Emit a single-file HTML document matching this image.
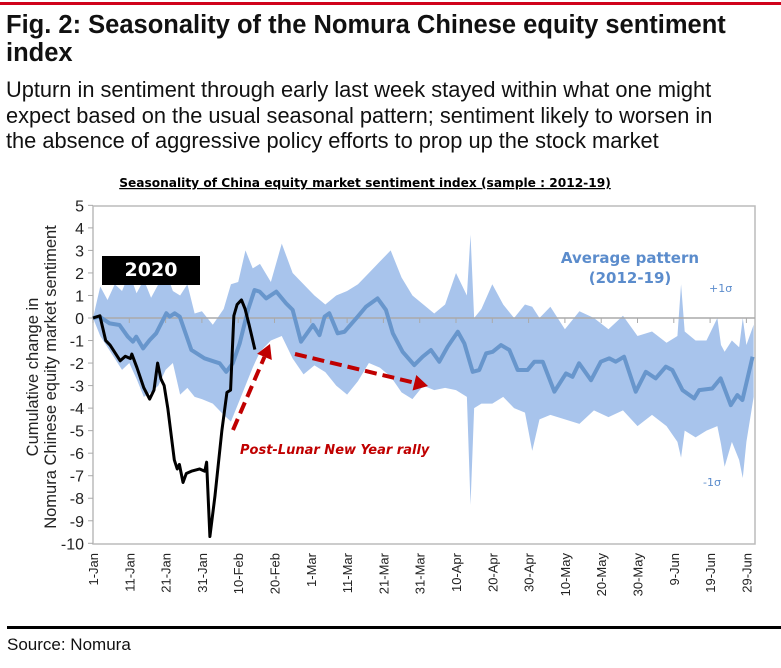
<!DOCTYPE html>
<html><head><meta charset="utf-8"><style>
body{margin:0;width:781px;height:668px;background:#fff;overflow:hidden;font-family:"Liberation Sans",sans-serif;position:relative}
.abs{position:absolute}
</style></head><body>
<div class="abs" style="left:0;top:2px;width:781px;height:3px;background:#d0021b"></div>
<div class="abs" style="left:6px;top:11px;width:745px;font-size:25.5px;font-weight:bold;line-height:28px;color:#111">Fig. 2: Seasonality of the Nomura Chinese equity sentiment index</div>
<div class="abs" style="left:6px;top:77px;width:730px;font-size:21.8px;line-height:25.5px;color:#111">Upturn in sentiment through early last week stayed within what one might expect based on the usual seasonal pattern; sentiment likely to worsen in the absence of aggressive policy efforts to prop up the stock market</div>
<svg class="abs" style="left:0;top:0" width="781" height="668">
<text x="365" y="187" text-anchor="middle" font-family="DejaVu Sans" font-weight="bold" font-size="12.2" text-decoration="underline">Seasonality of China equity market sentiment index (sample : 2012-19)</text>
<rect x="93" y="206" width="662" height="338" fill="none" stroke="#bbb" stroke-width="1.5"/>
<g id="g"></g>
</svg>
<div class="abs" style="left:102px;top:256px;width:98px;height:29px;background:#000;color:#fff;font:bold 19px 'DejaVu Sans',sans-serif;text-align:center;line-height:29px">2020</div>
<div class="abs" style="left:540px;top:248px;width:180px;text-align:center;color:#5b8ccc;font:bold 15px 'DejaVu Sans',sans-serif;line-height:20px">Average pattern<br>(2012-19)</div>
<div class="abs" style="left:709px;top:282px;color:#5b8ccc;font:11px 'DejaVu Sans',sans-serif">+1σ</div>
<div class="abs" style="left:703px;top:476px;color:#5b8ccc;font:11px 'DejaVu Sans',sans-serif">-1σ</div>
<div class="abs" style="left:240px;top:443px;color:#c00000;font:italic bold 13px 'DejaVu Sans',sans-serif">Post-Lunar New Year rally</div>
<div class="abs" style="left:-132px;top:358px;width:350px;height:38px;transform:rotate(-90deg);text-align:center;font-size:16.5px;line-height:18px;color:#222">Cumulative change in<br>Nomura Chinese equity market sentiment</div>
<div class="abs" style="left:7px;top:626px;width:774px;height:3px;background:#000"></div>
<div class="abs" style="left:7px;top:635px;font-size:17px;color:#111">Source: Nomura</div>
<script>
const yTicks=[5,4,3,2,1,0,-1,-2,-3,-4,-5,-6,-7,-8,-9,-10];
const xTickDays=[0,10,20,30,40,50,60,70,80,90,100,110,120,130,140,150,160,170,180];
const xTickLabels=["1-Jan","11-Jan","21-Jan","31-Jan","10-Feb","20-Feb","1-Mar","11-Mar","21-Mar","31-Mar","10-Apr","20-Apr","30-Apr","10-May","20-May","30-May","9-Jun","19-Jun","29-Jun"];
const days2020=[0,1.9,3.5,4.7,7.5,8.9,10.3,10.7,12.1,14,15.6,16.8,17.8,18.7,19.6,20.6,22.4,23.2,23.8,24.8,25.7,27.1,29.4,30.8,31.3,32.2,33.6,35.5,36.9,37.9,38.8,39.7,40.9,41.9,43,44.6];
const vals2020=[0,0.1,-1,-1.2,-1.9,-1.7,-1.8,-1.6,-2.2,-3.1,-3.6,-3.2,-2,-2.7,-3,-4,-6.3,-6.7,-6.5,-7.3,-6.9,-6.8,-6.7,-6.8,-6.4,-9.7,-7.9,-5,-3.3,-3.2,0.1,0.6,0.8,0.4,-0.3,-1.4];
const avgDays=[0,1.8,4.6,7.3,9.6,11,11.9,13.8,15.6,17.4,20.2,21.1,22.5,23.9,27.1,30.7,33.5,34.9,36.7,38.5,40.4,42.7,44.5,45.9,47.7,50.5,53.2,55,57.3,60.6,62.4,63.8,65.1,67.4,69.3,72.9,75.2,78.4,80.7,82.6,85.3,88.5,90.8,93.1,95.4,97.7,100.5,102.3,104.6,106.4,108.3,110.1,112.4,114.7,117,119.7,121.6,123.9,127.1,130.3,132.1,133.9,137.2,139.9,142.2,144,146.3,149.5,152.3,155,157.8,159.6,162.4,165.6,167,170.6,172.9,175.7,177.5,178.9,181.7];
const avgVals=[0,0.06,-0.24,-0.31,-0.83,-1.05,-0.83,-1.35,-0.98,-0.68,0.21,0.06,0.21,0.06,-1.42,-1.79,-1.94,-2.01,-2.39,-2.01,-1.13,0.36,1.24,1.17,0.87,1.17,0.65,0.36,-1.05,-0.31,-0.76,0.06,0.21,-0.68,-0.61,0.06,0.5,0.87,0.36,-0.68,-1.5,-2.09,-1.72,-1.42,-1.94,-1.27,-0.61,-1.13,-2.39,-2.31,-1.57,-1.5,-1.2,-1.42,-2.31,-2.31,-1.94,-1.94,-3.27,-2.46,-2.61,-2.01,-2.76,-1.94,-1.79,-1.94,-1.72,-3.27,-2.39,-2.68,-2.16,-2.31,-3.2,-3.57,-3.2,-3.13,-2.68,-3.87,-3.42,-3.64,-1.72];
const bandDays=[0,2,4,6,8,10,12,14,16,18,20,22,24,26,28,30,33,36,38,40,42,44,46,49,52,55,58,61,64,67,70,73,76,79,82,85,88,91,94,97,100,103,104,105,107,110,113,116,119,121,123,126,130,134,138,142,146,150,154,158,161,162,163,166,169,172,173,174,176,178,179,180,182];
const bandUpper=[0,1.4,0.8,1.5,1.2,2.0,1.1,1.7,0.9,1.5,2.1,1.2,1.0,1.5,0.2,0.3,-0.3,0.4,1.5,1.6,3.0,2.2,2.4,1.6,3.3,2.0,1.5,1.0,0.6,1.0,1.2,1.5,2.0,2.5,3.0,1.8,1.0,0.6,0.2,0.6,2.0,1.0,3.7,0.0,0.4,1.5,0.6,0.0,0.6,0.5,0.0,0.5,-0.5,0.3,0.0,-0.5,0.1,-0.8,-0.6,-1.1,-0.8,1.5,-0.6,-1.0,-1.0,0.0,-1.2,-1.5,-1.0,-1.3,0.0,-1.2,-0.3];
const bandLower=[0,-0.8,-1.3,-1.8,-2.3,-2.0,-2.7,-3.5,-3.3,-3.0,-2.3,-2.0,-3.4,-3.1,-3.5,-3.6,-3.8,-4.3,-4.6,-3.8,-3.0,-2.2,-1.5,-1.0,-0.8,-1.8,-2.5,-2.1,-2.4,-3.0,-3.4,-2.8,-2.0,-2.2,-2.6,-3.3,-3.6,-3.0,-3.2,-3.1,-3.2,-3.5,-8.3,-4.0,-3.8,-3.8,-3.5,-4.0,-4.2,-5.9,-4.5,-4.3,-4.5,-4.7,-4.1,-4.4,-4.1,-4.8,-4.3,-4.8,-5.5,-6.2,-5.0,-5.3,-5.0,-4.8,-5.6,-6.6,-5.5,-6.3,-7.1,-5.5,-3.5];
const X=d=>93+d*3.63;
const Y=v=>318-v*22.53;
const ns="http://www.w3.org/2000/svg";
const g=document.getElementById('g');
function mk(t,a){const e=document.createElementNS(ns,t);for(const k in a)e.setAttribute(k,a[k]);g.appendChild(e);return e;}
let pts=bandDays.map((d,i)=>X(d)+','+Y(bandUpper[i]));
for(let i=bandDays.length-1;i>=0;i--)pts.push(X(bandDays[i])+','+Y(bandLower[i]));
const band=mk('polygon',{points:pts.join(' '),fill:'#a8c4ec'});


const z=mk('line',{x1:93,x2:755,y1:Y(0),y2:Y(0),stroke:'#aaa','stroke-width':1.5});


xTickDays.forEach((d,i)=>{
 const t=mk('line',{x1:X(d),x2:X(d),y1:Y(0),y2:Y(0)+5,stroke:'#aaa'});
 
 
 const l=mk('text',{transform:`translate(${X(d)+5},553) rotate(-90)`,'text-anchor':'end','font-size':13,fill:'#222','font-family':'Liberation Sans'});
 l.textContent=xTickLabels[i];
 
 
});
yTicks.forEach(v=>{
 const t=mk('line',{x1:88,x2:93,y1:Y(v),y2:Y(v),stroke:'#aaa'});
 
 
 const l=mk('text',{x:84,y:Y(v)+6,'text-anchor':'end','font-size':16,fill:'#222','font-family':'Liberation Sans'});
 l.textContent=v;
 
 
});
const avg=mk('polyline',{points:avgDays.map((d,i)=>X(d)+','+Y(avgVals[i])).join(' '),fill:'none',stroke:'#6896cc','stroke-width':4,'stroke-linejoin':'round'});


const l20=mk('polyline',{points:days2020.map((d,i)=>X(d)+','+Y(vals2020[i])).join(' '),fill:'none',stroke:'#000','stroke-width':3,'stroke-linejoin':'round'});


function arrow(x1,y1,x2,y2,name){
 const a=Math.atan2(y2-y1,x2-x1),L=14;
 const bx=x2-L*Math.cos(a),by=y2-L*Math.sin(a);
 const ln=mk('line',{x1,y1,x2:bx,y2:by,stroke:'#c00000','stroke-width':4,'stroke-dasharray':'12,6'});
 
 
 const px=-Math.sin(a)*8,py=Math.cos(a)*8;
 const h=mk('polygon',{points:`${x2},${y2} ${bx+px},${by+py} ${bx-px},${by-py}`,fill:'#c00000'});
 
 
}
arrow(233,430,270,344,'rally-arrow');
arrow(295,354,428,386,'decline-arrow');
</script>
</body></html>
